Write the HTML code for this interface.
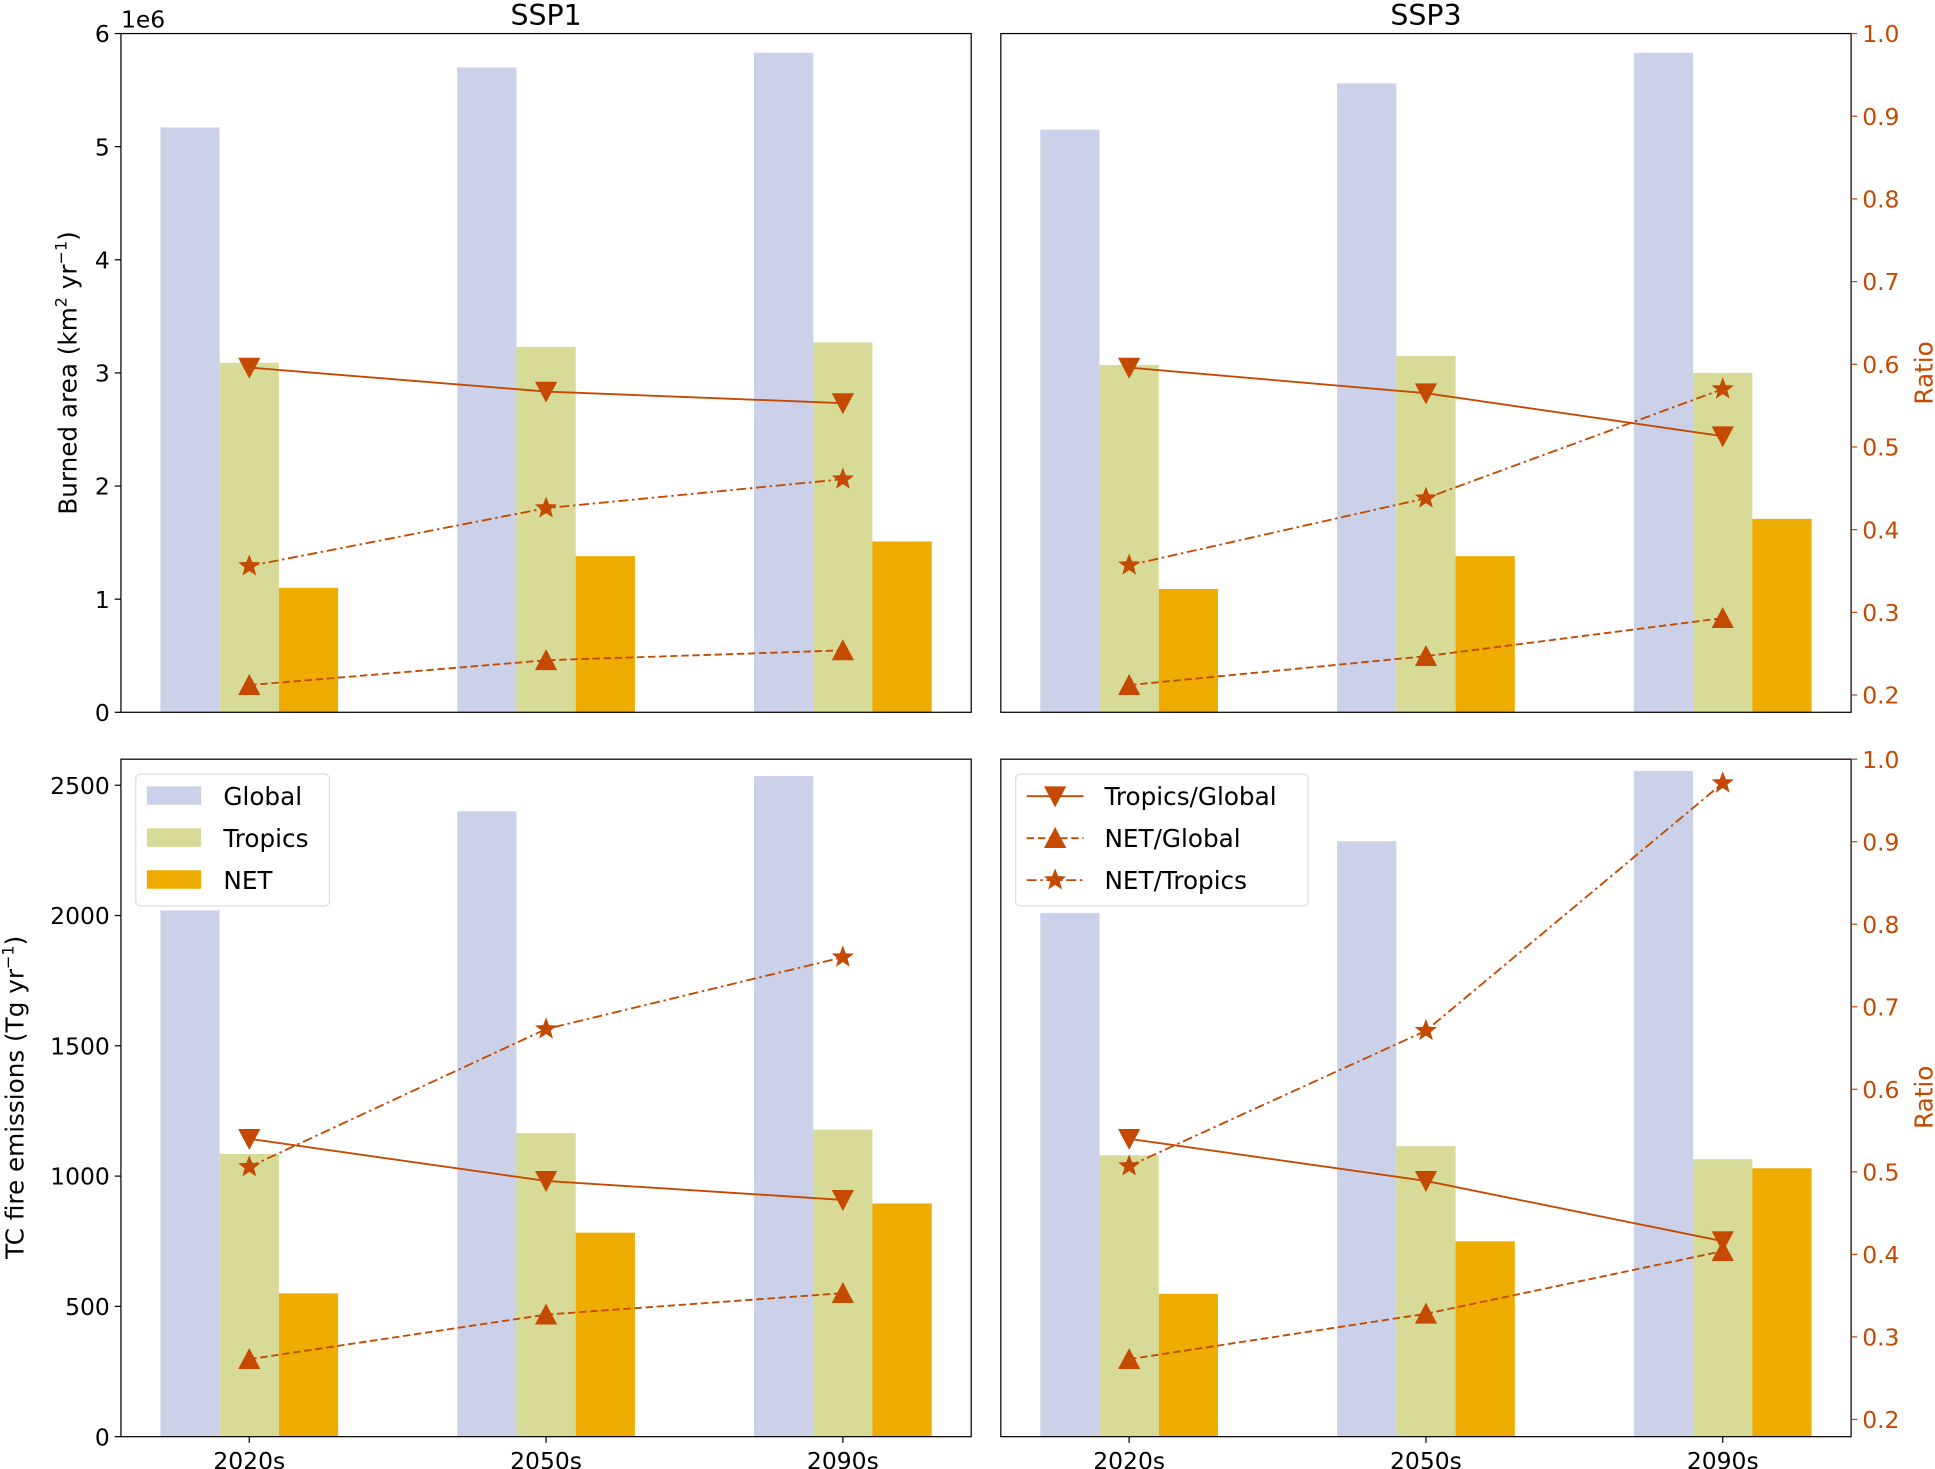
<!DOCTYPE html>
<html><head><meta charset="utf-8">
<style>html,body{margin:0;padding:0;background:#fff}svg{display:block}text{font-family:"DejaVu Sans","Liberation Sans",sans-serif}</style>
</head><body>
<svg id="chart" xmlns="http://www.w3.org/2000/svg" width="1935" height="1469" viewBox="0 0 1568 1190"></svg>
<script>
const categories = ["2020s","2050s","2090s"];
const panelTitles = ["SSP1","SSP3"];
// burned area (1e6 km2/yr)
const baGlobal = [[5.17,5.70,5.83],[5.15,5.56,5.83]];
const baTropics = [[3.09,3.23,3.27],[3.07,3.15,3.00]];
const baNet = [[1.10,1.38,1.51],[1.09,1.38,1.71]];
const baTG = [[0.596,0.567,0.553],[0.596,0.565,0.513]];
const baNG = [[0.212,0.242,0.254],[0.212,0.247,0.293]];
const baNT = [[0.356,0.426,0.461],[0.357,0.438,0.570]];
// emissions (Tg/yr)
const emGlobal = [[2020,2400,2535],[2010,2285,2555]];
const emTropics = [[1085,1165,1178],[1080,1115,1065]];
const emNet = [[550,783,895],[548,750,1030]];
const emTG = [[0.540,0.489,0.466],[0.540,0.489,0.416]];
const emNG = [[0.273,0.327,0.353],[0.273,0.328,0.404]];
const emNT = [[0.506,0.673,0.760],[0.507,0.671,0.971]];
const leftTicksTop = [0,1,2,3,4,5,6];
const leftTicksBottom = [0,500,1000,1500,2000,2500];
const ratioTicks = [0.2,0.3,0.4,0.5,0.6,0.7,0.8,0.9,1.0];

const NS="http://www.w3.org/2000/svg";
const svg=document.getElementById('chart');
const C={g:"#cbd1e9",t:"#d8db98",n:"#eeab00",l:"#c34a00"};
function el(tag,attrs,parent,txt){const e=document.createElementNS(NS,tag);for(const k in attrs)e.setAttribute(k,attrs[k]);if(txt!==undefined)e.textContent=txt;(parent||svg).appendChild(e);return e;}

const panels=[{x0:98,x1:787},{x0:811,x1:1500}];
const rows=[{y0:27,y1:577,max:6,ticks:leftTicksTop,G:baGlobal,T:baTropics,N:baNet,TG:baTG,NG:baNG,NT:baNT},
            {y0:615,y1:1164,max:2600,ticks:leftTicksBottom,G:emGlobal,T:emTropics,N:emNet,TG:emTG,NG:emNG,NT:emNT}];
const rMin=0.1791,rMax=1.0;

function marker(kind,cx,cy,g){
  let p;
  if(kind==="down")p=`${cx-9},${cy-8} ${cx+9},${cy-8} ${cx},${cy+9}`;
  else if(kind==="up")p=`${cx-9},${cy+8} ${cx+9},${cy+8} ${cx},${cy-9}`;
  else{let pts=[];for(let i=0;i<10;i++){const r=i%2?4:9.5;const a=-Math.PI/2+i*Math.PI/5;pts.push((cx+r*Math.cos(a)).toFixed(1)+","+(cy+r*Math.sin(a)).toFixed(1));}p=pts.join(" ");}
  const m=el('polygon',{points:p,fill:C.l},g);
  
  
}

rows.forEach((row,ri)=>{
  const ys=v=>row.y1-(v/row.max)*(row.y1-row.y0);
  const rs=v=>row.y1-(v-rMin)/(rMax-rMin)*(row.y1-row.y0);
  panels.forEach((pn,pi)=>{
    const g=el('g',{},svg);
    
    
    const xc=i=>pn.x0+104+240.5*i;
    const bw=48;
    categories.forEach((c,i)=>{
      [[row.G,C.g,-1,'global'],[row.T,C.t,0,'tropics'],[row.N,C.n,1,'net']].forEach(([arr,col,off,nm])=>{
        const v=arr[pi][i];const x=xc(i)+off*bw-bw/2;
        const b=el('rect',{x:x,y:ys(v),width:bw,height:row.y1-ys(v),fill:col},g);
        
        
      });
    });
    [[row.TG,'none','down'],[row.NG,'6,3','up'],[row.NT,'8,3,2,3','star']].forEach(([arr,dash,mk])=>{
      const pts=arr[pi].map((v,i)=>xc(i)+","+rs(v)).join(" ");
      const l=el('polyline',{points:pts,fill:'none',stroke:C.l,'stroke-width':1.5,'stroke-dasharray':dash},g);
      
      
      arr[pi].forEach((v,i)=>marker(mk,xc(i),rs(v),g));
    });
    el('rect',{x:pn.x0,y:row.y0,width:pn.x1-pn.x0,height:row.y1-row.y0,fill:'none',stroke:'#000','stroke-width':1},g);
    if(pi===0){
      row.ticks.forEach(t=>{const y=ys(t);el('line',{x1:pn.x0-5,x2:pn.x0,y1:y,y2:y,stroke:'#000'},g);
        const tx=el('text',{x:pn.x0-9,y:y+7,'text-anchor':'end','font-size':19},g,String(t));
        });
    } else {
      ratioTicks.forEach(t=>{const y=rs(t);el('line',{x1:pn.x1,x2:pn.x1+5,y1:y,y2:y,stroke:C.l},g);
        const tx=el('text',{x:pn.x1+9,y:y+7,'font-size':19,fill:C.l},g,t.toFixed(1));
        });
    }
    if(ri===1){
      categories.forEach((c,i)=>{el('line',{x1:xc(i),x2:xc(i),y1:row.y1,y2:row.y1+5,stroke:'#000'},g);
        const tx=el('text',{x:xc(i),y:row.y1+26,'text-anchor':'middle','font-size':19},g,c);
        });
    }
    if(ri===0){
      const t=el('text',{x:(pn.x0+pn.x1)/2,y:20,'text-anchor':'middle','font-size':23},g,panelTitles[pi]);
      
    }
  });
});
</script>
<svg style="position:absolute;left:0;top:0" width="1935" height="1469" viewBox="0 0 1568 1190" xmlns="http://www.w3.org/2000/svg">
  <text x="98" y="22" font-size="19">1e6</text>
  <text transform="translate(62,302) rotate(-90)" text-anchor="middle" font-size="20">Burned area (km<tspan font-size="13" dy="-8">2</tspan><tspan dy="8"> yr</tspan><tspan font-size="13" dy="-8">−1</tspan><tspan dy="8">)</tspan></text>
  <text transform="translate(19,889) rotate(-90)" text-anchor="middle" font-size="20">TC fire emissions (Tg yr<tspan font-size="13" dy="-8">−1</tspan><tspan dy="8">)</tspan></text>
  <text transform="translate(1566,302) rotate(-90)" text-anchor="middle" font-size="20" fill="#c34a00">Ratio</text>
  <text transform="translate(1566,889) rotate(-90)" text-anchor="middle" font-size="20" fill="#c34a00">Ratio</text>
  <g>
    <rect x="110" y="627" width="157" height="107" rx="4" fill="#fff" fill-opacity="0.8" stroke="#ddd"/>
    <rect x="119" y="637" width="44" height="15" fill="#cbd1e9"/><text x="181" y="652" font-size="20">Global</text>
    <rect x="119" y="671" width="44" height="15" fill="#d8db98"/><text x="181" y="686" font-size="20">Tropics</text>
    <rect x="119" y="705" width="44" height="15" fill="#eeab00"/><text x="181" y="720" font-size="20">NET</text>
  </g>
  <g>
    <rect x="823" y="627" width="237" height="107" rx="4" fill="#fff" fill-opacity="0.8" stroke="#ddd"/>
    <line x1="832" x2="878" y1="645" y2="645" stroke="#c34a00" stroke-width="1.5"/><polygon points="846,637 864,637 855,654" fill="#c34a00"/><text x="895" y="652" font-size="20">Tropics/Global</text>
    <line x1="832" x2="878" y1="679" y2="679" stroke="#c34a00" stroke-width="1.5" stroke-dasharray="6,3"/><polygon points="846,687 864,687 855,670" fill="#c34a00"/><text x="895" y="686" font-size="20">NET/Global</text>
    <line x1="832" x2="878" y1="713" y2="713" stroke="#c34a00" stroke-width="1.5" stroke-dasharray="8,3,2,3"/><polygon points="855,703.5 857.4,709.8 864,710.1 858.8,714.2 860.6,720.6 855,716.9 849.4,720.6 851.2,714.2 846,710.1 852.6,709.8" fill="#c34a00"/><text x="895" y="720" font-size="20">NET/Tropics</text>
  </g>
</svg>
</body></html>
